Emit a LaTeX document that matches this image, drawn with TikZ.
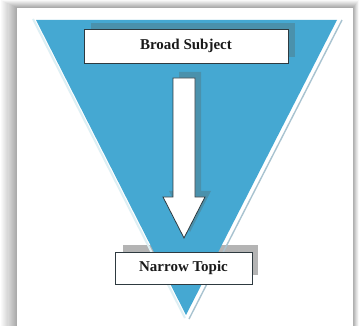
\documentclass[tikz,border=0pt]{standalone}
\usepackage{fontspec}
\setmainfont{Liberation Serif}
\definecolor{tri}{HTML}{45A8D2}
\definecolor{tridark}{HTML}{4A91AC}
\definecolor{paleedge}{HTML}{DDEFF4}
\definecolor{rightedge}{HTML}{A8C3D0}
\definecolor{boxline}{HTML}{2E3A40}
\definecolor{greyshadow}{HTML}{B4B4B4}
\tikzset{
  labelbox/.style={draw=boxline, line width=0.9pt, fill=white, inner sep=0pt,
    font=\fontsize{15}{18}\selectfont\bfseries, text=black!90},
}
\begin{document}
\begin{tikzpicture}[x=1pt,y=-1pt]
\useasboundingbox (0,0) rectangle (359,326);
\fill[white] (0,0) rectangle (359,326);
% page shadow
\foreach \k in {0,...,16}{
  \pgfmathsetmacro\t{1-\k/16}
  \pgfmathsetmacro\c{\k*2.2}
  \fill[black!\c] ({17-17*\t},{8-8*\t}) rectangle ({353+6*\t},330);
}
\fill[white] (17,8) rectangle (353,330);
% narrow topic shadow
\fill[greyshadow] (123,245) rectangle (258,275);
% triangle edges
\draw[paleedge, line width=2pt] (33,19) -- (185,318);
\draw[rightedge, line width=1.4pt] (342,20) -- (189,319);
\fill[tri] (36,20) -- (337,20) -- (186,315) -- cycle;
% broad subject shadow
\fill[tridark] (91,23) rectangle (295,57);
% arrow shadow
\fill[tridark] (179,72) -- (201,72) -- (201,191) -- (211,191) -- (190,232) -- (169,191) -- (179,191) -- cycle;
% broad subject box
\node[labelbox, minimum width=204pt, minimum height=34pt] (broad) at (186,46) {Broad Subject};
% block arrow
\draw[boxline, line width=0.8pt, fill=white, line join=miter]
  (173,78) -- (195,78) -- (195,197) -- (205,197) -- (184,238) -- (163,197) -- (173,197) -- cycle;
% narrow topic box
\node[labelbox, minimum width=137pt, minimum height=32pt] (narrow) at (183.5,268) {Narrow Topic};
\end{tikzpicture}
\end{document}
